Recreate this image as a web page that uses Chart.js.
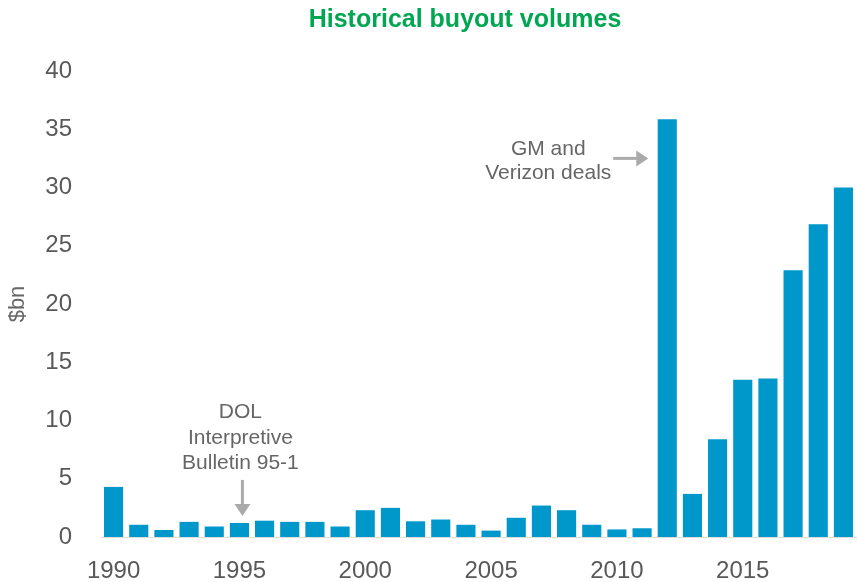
<!DOCTYPE html>
<html>
<head>
<meta charset="utf-8">
<script src="https://cdn.jsdelivr.net/npm/chart.js@4/dist/chart.umd.min.js"></script>
<style>
  html, body { margin: 0; padding: 0; background: #fff; }
  #wrap { width: 857px; height: 582px; }
</style>
</head>
<body>
<div id="wrap"><canvas id="chart1"></canvas></div>
<script>
// data ($bn)
var years = [1990, 1991, 1992, 1993, 1994, 1995, 1996, 1997, 1998, 1999,
             2000, 2001, 2002, 2003, 2004, 2005, 2006, 2007, 2008, 2009,
             2010, 2011, 2012, 2013, 2014, 2015, 2016, 2017, 2018, 2019];
var volumes = [4.3, 1.05, 0.6, 1.3, 0.9, 1.2, 1.4, 1.3, 1.3, 0.9,
               2.3, 2.5, 1.35, 1.5, 1.05, 0.55, 1.65, 2.7, 2.3, 1.05,
               0.65, 0.75, 35.85, 3.7, 8.4, 13.5, 13.6, 22.9, 26.85, 30];
var yTicks = [0, 5, 10, 15, 20, 25, 30, 35, 40];

var titleText = 'Historical buyout volumes';
var dolNote = ['DOL', 'Interpretive', 'Bulletin 95-1'];
var gmNote = ['GM and', 'Verizon deals'];

var grey = '#595959';
var noteGrey = '#666666';
var arrowGrey = '#aaaaaa';

function arrow(ctx, x1, y1, x2, y2) {
    var ang = Math.atan2(y2 - y1, x2 - x1);
    var head = 12;
    ctx.save();
    ctx.strokeStyle = arrowGrey;
    ctx.fillStyle = arrowGrey;
    ctx.lineWidth = 3;
    ctx.beginPath();
    ctx.moveTo(x1, y1);
    ctx.lineTo(x2 - Math.cos(ang) * head * 0.8, y2 - Math.sin(ang) * head * 0.8);
    ctx.stroke();
    ctx.beginPath();
    ctx.moveTo(x2, y2);
    ctx.lineTo(x2 - head * Math.cos(ang) + 8 * Math.sin(ang), y2 - head * Math.sin(ang) - 8 * Math.cos(ang));
    ctx.lineTo(x2 - head * Math.cos(ang) - 8 * Math.sin(ang), y2 - head * Math.sin(ang) + 8 * Math.cos(ang));
    ctx.closePath();
    ctx.fill();
    ctx.restore();
}

var notesPlugin = {
    id: 'notes',
    afterDraw: function (chart) {
        var ctx = chart.ctx;
        var xs = chart.scales.x, ys = chart.scales.y;

        // title
        ctx.save();
        ctx.fillStyle = '#00a651';
        ctx.font = 'bold 25px "Liberation Sans", Arial, sans-serif';
        ctx.textAlign = 'center';
        ctx.textBaseline = 'middle';
        ctx.fillText(titleText, 465, 20);

        // DOL note over 1995
        var x95 = xs.getPixelForValue(years.indexOf(1995));
        ctx.fillStyle = noteGrey;
        ctx.font = '21px "Liberation Sans", Arial, sans-serif';
        var y0 = ys.getPixelForValue(10.7);
        dolNote.forEach(function (line, i) {
            ctx.fillText(line, x95 + 1, y0 + i * 25.5);
        });
        ctx.restore();
        arrow(ctx, x95 + 3, ys.getPixelForValue(4.9), x95 + 3, ys.getPixelForValue(1.8));

        // GM / Verizon note left of 2012
        var x12 = xs.getPixelForValue(years.indexOf(2012));
        ctx.save();
        ctx.fillStyle = noteGrey;
        ctx.font = '21px "Liberation Sans", Arial, sans-serif';
        ctx.textAlign = 'center';
        ctx.textBaseline = 'middle';
        var y1 = ys.getPixelForValue(33.3);
        gmNote.forEach(function (line, i) {
            ctx.fillText(line, x12 - 119, y1 + i * 24);
        });
        ctx.restore();
        var ya = ys.getPixelForValue(32.5);
        arrow(ctx, x12 - 54, ya, x12 - 19, ya);
    }
};

var ctx = document.getElementById('chart1').getContext('2d');
var myChart = new Chart(ctx, {
    type: 'bar',
    data: {
        labels: years,
        datasets: [{
            label: 'Buyout volume',
            data: volumes,
            backgroundColor: '#0098cb',
            barPercentage: 0.76,
            categoryPercentage: 1.0
        }]
    },
    options: {
        responsive: true,
        maintainAspectRatio: false,
        animation: false,
        layout: {
            padding: { top: 71, right: 1, left: 0, bottom: 0 }
        },
        plugins: {
            legend: { display: false },
            title: { display: false },
            tooltip: { enabled: false }
        },
        scales: {
            x: {
                grid: { display: false },
                border: { color: '#dddddd', width: 1 },
                ticks: {
                    autoSkip: false,
                    maxRotation: 0,
                    padding: 12,
                    color: grey,
                    font: { size: 24, family: '"Liberation Sans", Arial, sans-serif' },
                    callback: function (val, i) {
                        return years[i] % 5 === 0 ? String(years[i]) : '';
                    }
                },
                afterFit: function (scale) { scale.height = 45; }
            },
            y: {
                min: 0,
                max: 40,
                grid: { display: false },
                border: { display: false },
                afterBuildTicks: function (scale) {
                    scale.ticks = yTicks.map(function (v) { return { value: v }; });
                },
                ticks: {
                    padding: 21,
                    color: grey,
                    font: { size: 24, family: '"Liberation Sans", Arial, sans-serif' }
                },
                title: {
                    display: true,
                    text: '$bn',
                    color: noteGrey,
                    padding: { top: 5, bottom: 0 },
                    font: { size: 22, family: '"Liberation Sans", Arial, sans-serif' }
                },
                afterFit: function (scale) { scale.width = 101; }
            }
        }
    },
    plugins: [notesPlugin]
});
</script>
</body>
</html>
